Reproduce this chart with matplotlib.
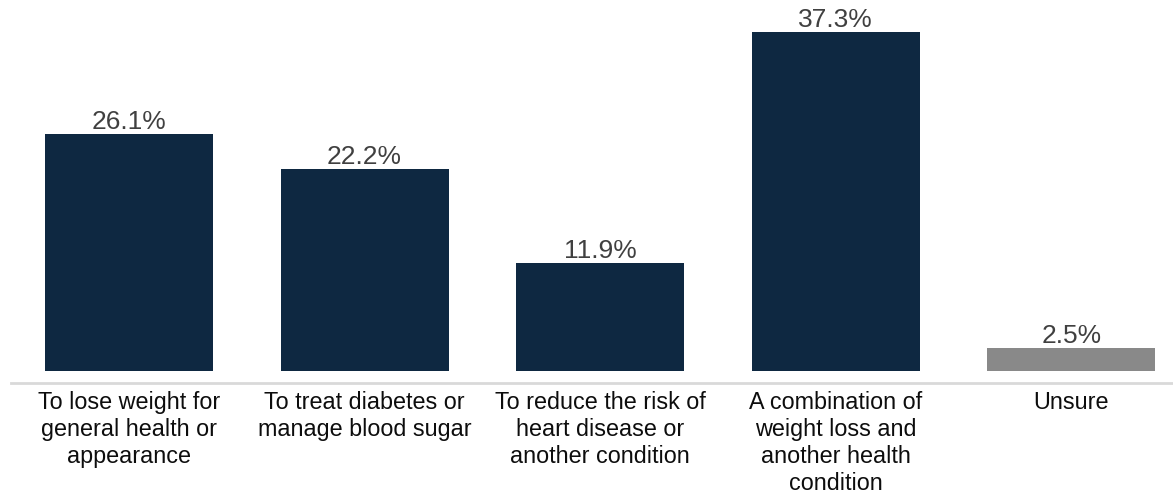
import matplotlib.pyplot as plt

categories = [
    "To lose weight for\ngeneral health or\nappearance",
    "To treat diabetes or\nmanage blood sugar",
    "To reduce the risk of\nheart disease or\nanother condition",
    "A combination of\nweight loss and\nanother health\ncondition",
    "Unsure",
]
values = [26.1, 22.2, 11.9, 37.3, 2.5]
colors = ["#0E2841", "#0E2841", "#0E2841", "#0E2841", "#898989"]

plt.rcParams['font.family'] = ['Liberation Sans', 'DejaVu Sans']

fig = plt.figure(figsize=(11.73, 4.97), dpi=100)
ax = fig.add_axes([11.2 / 1173, 114 / 497, 1178 / 1173, 375.8 / 497])

x = list(range(len(values)))
bars = ax.bar(x, values, width=0.713, color=colors)

for b, v in zip(bars, values):
    ax.annotate(f"{v:.1f}%", (b.get_x() + b.get_width() / 2, v),
                xytext=(0, 3.6), textcoords="offset points",
                ha="center", va="baseline", fontsize=19, color="#404040")

ax.set_xlim(-0.5, 4.5)
ax.set_ylim(-1.3, 40)
ax.set_xticks(x)
ax.set_xticklabels(categories, fontsize=16.8, color="#0D0D0D", linespacing=1.22)
ax.tick_params(axis="x", length=0, pad=6)
ax.set_yticks([])
for s in ["top", "right", "left"]:
    ax.spines[s].set_visible(False)
ax.spines["bottom"].set_color("#D9D9D9")
ax.spines["bottom"].set_linewidth(2)

fig.savefig("out.png", dpi=100)
